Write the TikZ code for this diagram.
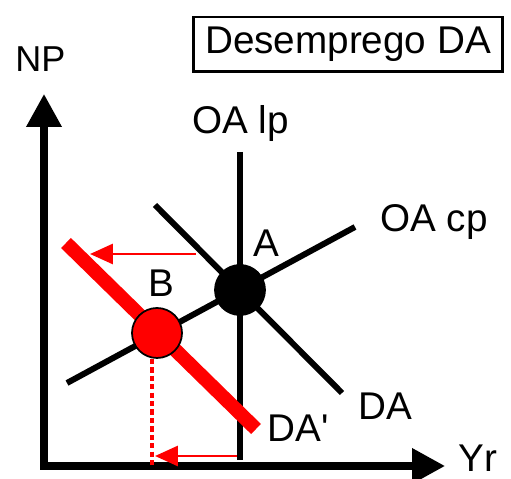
\documentclass[tikz,border=0pt]{standalone}
\usepackage{fontspec}
\setmainfont{Liberation Sans}
\usetikzlibrary{arrows.meta}
\tikzset{
	x=0.02cm, y=-0.02cm,
	axis/.style={line width=4pt, {Triangle[length=0.66cm, width=0.68cm]}-{Triangle[length=0.66cm, width=0.68cm]}},
	curve/.style={line width=3.4pt},
	move arrow/.style={red, line width=1.7pt, -{Triangle[length=0.46cm, width=0.4cm]}},
	lbl/.style={inner sep=0pt, anchor=base west, font=\fontsize{22}{26}\selectfont},
	point/.style={circle, draw=black, line width=1pt, minimum size=1cm, inner sep=0pt},
}
\begin{document}
\begin{tikzpicture}
	\useasboundingbox (0,0) rectangle (511,479);

	% eixos
	\coordinate (ytip) at (44,94);
	\coordinate (xtip) at (445,466);
	\draw[axis] (ytip) |- (xtip);
	\node[lbl, font=\fontsize{20.5}{24}\selectfont] (NP) at (15,72) {NP};
	\node[lbl] (Yr) at (458,472) {Yr};

	% titulo
	\node[draw, line width=1.7pt, minimum width=6.2cm, minimum height=1.1cm, inner sep=0pt,
		font=\fontsize{22}{26}\selectfont] (title) at (348,44.5) {Desemprego DA};

	% curvas
	\coordinate (OAlpTop) at (240,152);
	\coordinate (OAlpBot) at (240,460);
	\coordinate (OAcpL) at (67,383);
	\coordinate (OAcpR) at (355,227);
	\coordinate (DAL) at (155,205);
	\coordinate (DAR) at (342,393);
	\coordinate (DA2L) at (66,243);
	\coordinate (DA2R) at (256,429);
	\draw[curve] (OAlpTop) -- (OAlpBot);
	\draw[curve] (OAcpL) -- (OAcpR);
	\draw[curve] (DAL) -- (DAR);
	\draw[red, line width=8pt] (DA2L) -- (DA2R);

	\node[lbl] (OAlp) at (192,134) {OA lp};
	\node[lbl] (OAcp) at (380,232) {OA cp};
	\node[lbl] (DA) at (358,420) {DA};
	\node[lbl] (DA2) at (267,442) {DA\textquotesingle};

	% equilibrios
	\node[point, fill=black] (A) at (240,290) {};
	\node[point, fill=red] (B) at (157,333) {};
	\node[lbl] (Alab) at (253,257) {A};
	\node[lbl] (Blab) at (148,297) {B};

	% deslocamentos
	\coordinate (s1) at (196,254);
	\coordinate (e1) at (90,254);
	\coordinate (s2) at (237,456);
	\coordinate (e2) at (155,456);
	\coordinate (Bfoot) at (152,466);
	\draw[move arrow] (s1) -- (e1);
	\draw[move arrow] (s2) -- (e2);
	\draw[red, line width=2.3pt, dash pattern=on 3pt off 1.8pt] (B.south -| Bfoot) -- (Bfoot);

\end{tikzpicture}
\end{document}
